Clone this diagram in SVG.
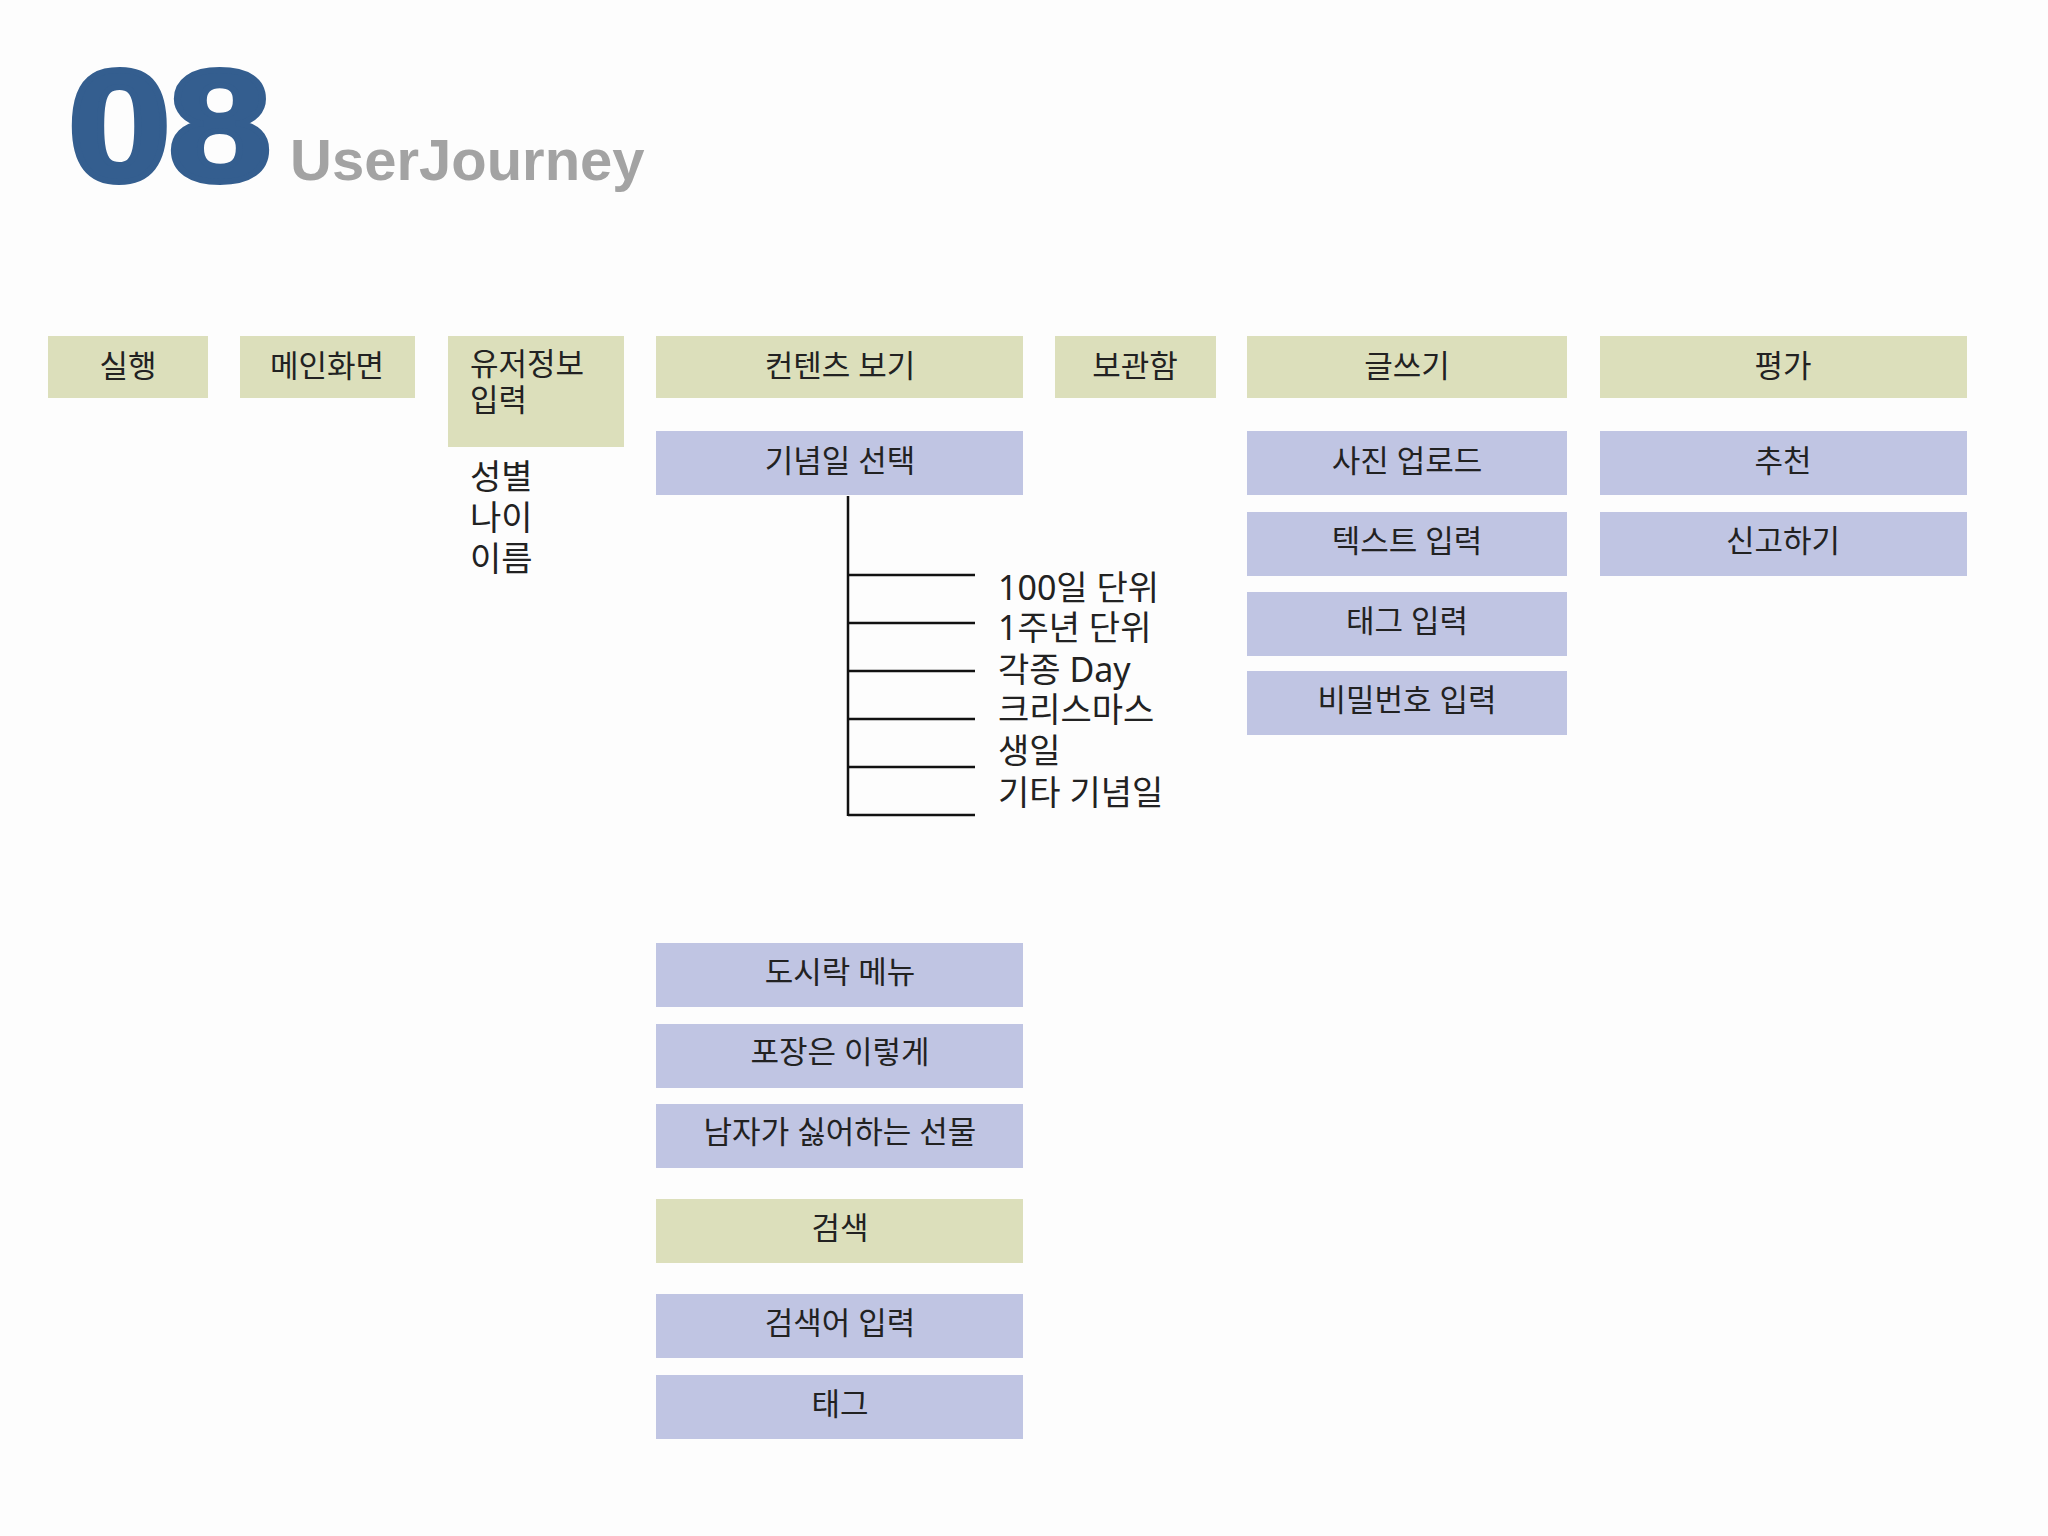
<svg xmlns="http://www.w3.org/2000/svg" width="2048" height="1536" viewBox="0 0 2048 1536">
<style>
.g{fill:#dcdfbb}.p{fill:#c0c5e3}
text{font-family:"Noto Sans","Noto Sans CJK KR",sans-serif;fill:#222}
.c{font-size:31px;text-anchor:middle}
.t{font-size:34px}
.ln{stroke:#111;stroke-width:2.5;fill:none}
</style>
<rect width="2048" height="1536" fill="#fdfdfd"/>
<text transform="translate(68 180) scale(1.17 1)" x="0" y="0" style="font-family:'Liberation Sans',sans-serif;font-weight:bold;font-size:158px;fill:#345e8f;stroke:#345e8f;stroke-width:6;letter-spacing:-2px">08</text>
<text x="290" y="180" style="font-family:'Liberation Sans',sans-serif;font-weight:bold;font-size:58px;fill:#a3a3a3">UserJourney</text>
<g id="n1"><rect class="g" x="48" y="336" width="160" height="62"/><text class="c" x="128" y="377">실행</text></g>
<g id="n2"><rect class="g" x="240" y="336" width="175" height="62"/><text class="c" x="327" y="377">메인화면</text></g>
<g id="n3"><rect class="g" x="448" y="336" width="176" height="111"/><text style="font-size:31px" x="470" y="375">유저정보</text><text style="font-size:31px" x="470" y="411">입력</text></g>
<g id="n3t"><text class="t" x="470" y="489">성별</text><text class="t" x="470" y="530">나이</text><text class="t" x="470" y="571">이름</text></g>
<g id="n4"><rect class="g" x="656" y="336" width="367" height="62"/><text class="c" x="840" y="377">컨텐츠 보기</text></g>
<g id="n5"><rect class="g" x="1055" y="336" width="161" height="62"/><text class="c" x="1135" y="377">보관함</text></g>
<g id="n6"><rect class="g" x="1247" y="336" width="320" height="62"/><text class="c" x="1407" y="377">글쓰기</text></g>
<g id="n7"><rect class="g" x="1600" y="336" width="367" height="62"/><text class="c" x="1783" y="377">평가</text></g>
<g id="n8"><rect class="p" x="656" y="431" width="367" height="64"/><text class="c" x="840" y="472">기념일 선택</text></g>
<g id="n9"><rect class="p" x="1247" y="431" width="320" height="64"/><text class="c" x="1407" y="472">사진 업로드</text></g>
<g id="n10"><rect class="p" x="1247" y="512" width="320" height="64"/><text class="c" x="1407" y="552">텍스트 입력</text></g>
<g id="n11"><rect class="p" x="1247" y="592" width="320" height="64"/><text class="c" x="1407" y="632">태그 입력</text></g>
<g id="n12"><rect class="p" x="1247" y="671" width="320" height="64"/><text class="c" x="1407" y="711">비밀번호 입력</text></g>
<g id="n13"><rect class="p" x="1600" y="431" width="367" height="64"/><text class="c" x="1783" y="472">추천</text></g>
<g id="n14"><rect class="p" x="1600" y="512" width="367" height="64"/><text class="c" x="1783" y="552">신고하기</text></g>
<g id="n15"><rect class="p" x="656" y="943" width="367" height="64"/><text class="c" x="840" y="983">도시락 메뉴</text></g>
<g id="n16"><rect class="p" x="656" y="1024" width="367" height="64"/><text class="c" x="840" y="1063">포장은 이렇게</text></g>
<g id="n17"><rect class="p" x="656" y="1104" width="367" height="64"/><text class="c" x="840" y="1143">남자가 싫어하는 선물</text></g>
<g id="n18"><rect class="g" x="656" y="1199" width="367" height="64"/><text class="c" x="840" y="1239">검색</text></g>
<g id="n19"><rect class="p" x="656" y="1294" width="367" height="64"/><text class="c" x="840" y="1334">검색어 입력</text></g>
<g id="n20"><rect class="p" x="656" y="1375" width="367" height="64"/><text class="c" x="840" y="1415">태그</text></g>
<g id="connectors">
<path class="ln" d="M848 496V816M848 575H975M848 623H975M848 671H975M848 719H975M848 767H975M848 815H975"/>
</g>
<g id="tree-labels">
<text class="t" x="998" y="600">100일 단위</text>
<text class="t" x="998" y="640">1주년 단위</text>
<text class="t" x="998" y="682">각종 Day</text>
<text class="t" x="998" y="722">크리스마스</text>
<text class="t" x="998" y="763">생일</text>
<text class="t" x="998" y="805">기타 기념일</text>
</g>
</svg>
